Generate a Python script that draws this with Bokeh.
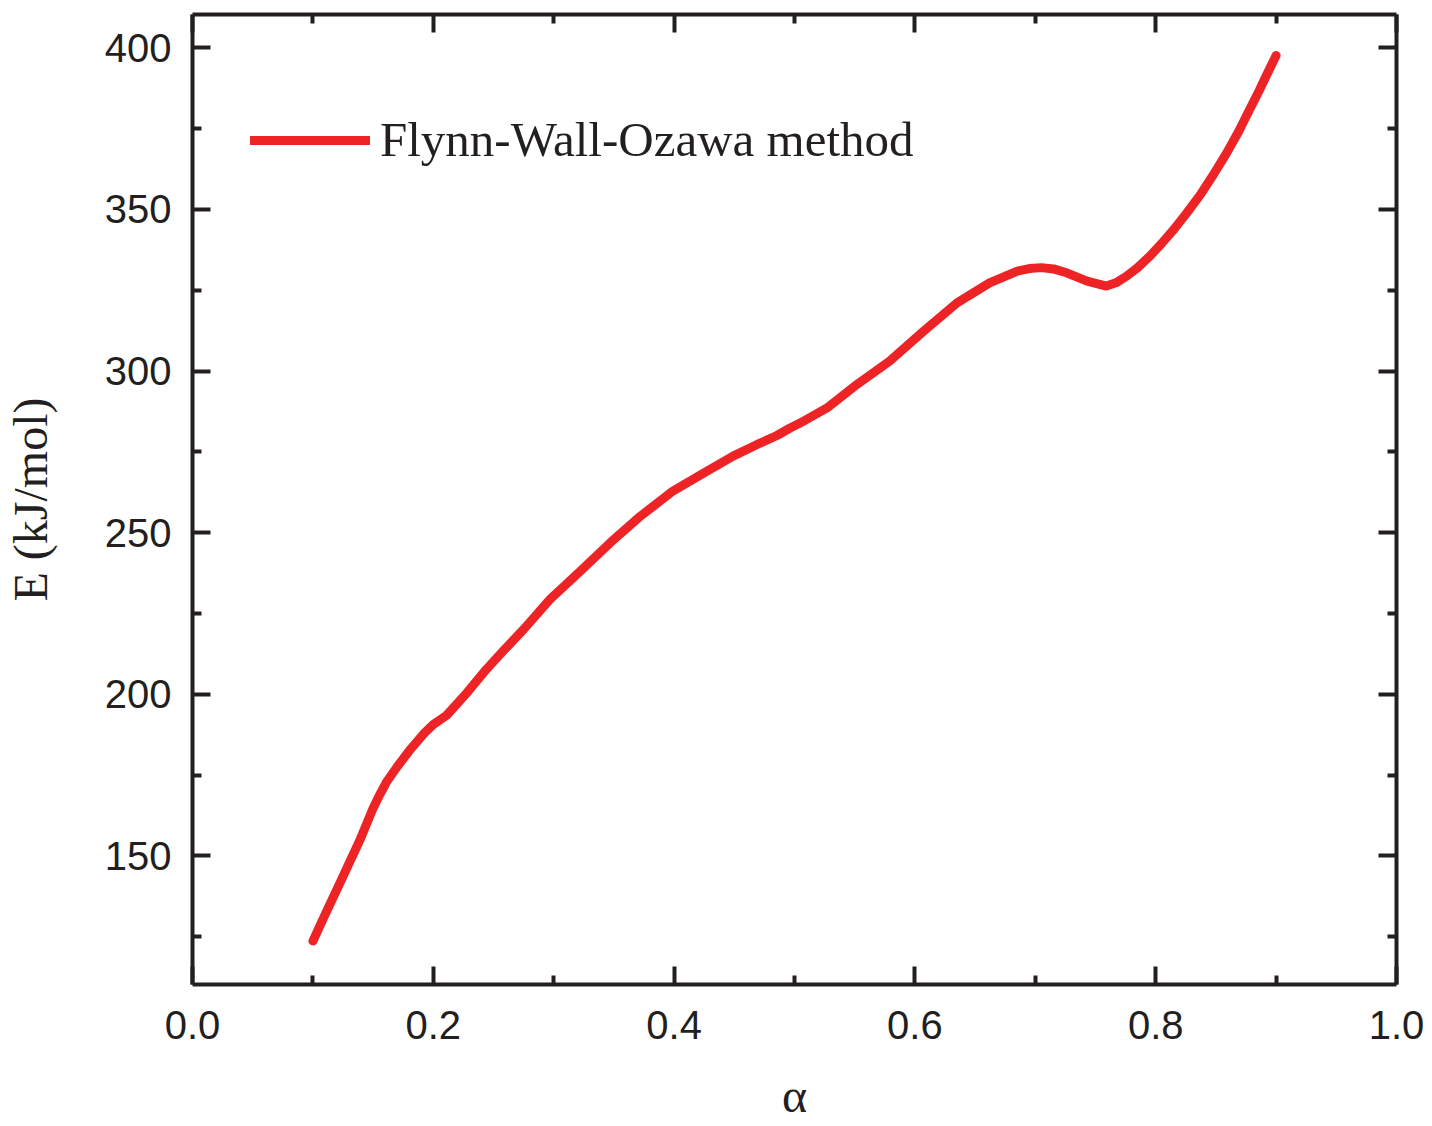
from bokeh.plotting import figure
from bokeh.models import (Range1d, LinearAxis, FixedTicker, Legend, LegendItem,
                          NumeralTickFormatter, CustomJSTickFormatter)
from bokeh.embed import file_html
from bokeh.resources import INLINE

alpha = [0.100, 0.110, 0.1225, 0.139, 0.150, 0.156, 0.161, 0.170, 0.181, 0.192,
         0.200, 0.211, 0.228, 0.244, 0.258, 0.275, 0.297, 0.322, 0.347, 0.372,
         0.399, 0.427, 0.449, 0.469, 0.485, 0.496, 0.505, 0.527, 0.552, 0.579,
         0.607, 0.635, 0.662, 0.685, 0.695, 0.705, 0.715, 0.726, 0.743, 0.759,
         0.767, 0.776, 0.785, 0.795, 0.805, 0.815, 0.825, 0.837, 0.848, 0.859,
         0.869, 0.878, 0.886, 0.892, 0.900]
energy = [123.7, 131.8, 141.7, 154.9, 164.8, 169.3, 172.8, 177.6, 183.0, 187.8,
          190.7, 193.5, 200.5, 207.7, 213.4, 220.1, 229.4, 238.1, 246.9, 255.1,
          262.9, 269.0, 273.7, 277.3, 280.0, 282.3, 284.0, 288.6, 295.9, 303.1,
          312.3, 321.1, 327.3, 330.9, 331.7, 332.0, 331.6, 330.4, 327.8, 326.3,
          327.3, 329.4, 332.0, 335.5, 339.5, 343.8, 348.5, 354.5, 360.8, 367.5,
          374.2, 380.9, 386.8, 391.5, 397.6]

x_major = [0.0, 0.2, 0.4, 0.6, 0.8, 1.0]
x_minor = [0.1, 0.3, 0.5, 0.7, 0.9]
y_major = [150, 200, 250, 300, 350, 400]
y_minor = [125, 175, 225, 275, 325, 375]

series_label = "Flynn-Wall-Ozawa method"
x_title = "α"
y_title = "E (kJ/mol)"

INK = "#231F20"
RED = "#EE2326"

Y_LO, Y_HI = 110.25, 410.3
FRAME_W, FRAME_H = 1204, 970

p = figure(frame_width=FRAME_W, frame_height=FRAME_H, output_backend="svg",
           toolbar_location=None,
           x_range=Range1d(0.0, 1.0), y_range=Range1d(Y_LO, Y_HI),
           min_border_left=190, min_border_right=30, min_border_top=14,
           min_border_bottom=100, x_axis_location=None, y_axis_location=None)
p.outline_line_color = None
p.xgrid.visible = False
p.ygrid.visible = False
p.background_fill_color = "white"

def style(ax, ticks, minor, labels=True):
    ax.ticker = FixedTicker(ticks=ticks, minor_ticks=minor)
    ax.axis_line_color = INK
    ax.axis_line_width = 4
    ax.major_tick_line_color = INK
    ax.major_tick_line_width = 4
    ax.minor_tick_line_color = INK
    ax.minor_tick_line_width = 4
    ax.major_tick_in = 18
    ax.major_tick_out = 0
    ax.minor_tick_in = 9
    ax.minor_tick_out = 0
    ax.major_label_text_font = "Liberation Sans"
    ax.major_label_text_font_size = "40px"
    ax.major_label_text_color = INK
    ax.axis_label_text_font = "Liberation Serif"
    ax.axis_label_text_font_size = "48px"
    ax.axis_label_text_font_style = "normal"
    ax.axis_label_text_color = INK
    if not labels:
        ax.formatter = CustomJSTickFormatter(code="return '';")
        ax.major_label_text_font_size = "0px"
        ax.major_label_standoff = 0

xb = LinearAxis(axis_label=x_title)
style(xb, x_major, x_minor)
xb.formatter = NumeralTickFormatter(format="0.0")
xb.major_label_standoff = 26
xb.axis_label_standoff = 27
p.add_layout(xb, "below")

yl = LinearAxis(axis_label=y_title)
style(yl, y_major, y_minor)
yl.major_label_standoff = 21
yl.axis_label_standoff = 45
p.add_layout(yl, "left")

xt = LinearAxis()
style(xt, x_major, x_minor, labels=False)
p.add_layout(xt, "above")

yr = LinearAxis()
style(yr, y_major, y_minor, labels=False)
p.add_layout(yr, "right")

r = p.line(alpha, energy, line_color=RED, line_width=9, line_cap="round", line_join="round")

legend = Legend(items=[LegendItem(label=series_label, renderers=[r])],
                location=(58, 816), orientation="vertical")
legend.glyph_width = 120
legend.glyph_height = 20
legend.label_standoff = 10
legend.padding = 0
legend.margin = 0
legend.spacing = 0
legend.border_line_color = None
legend.background_fill_alpha = 0
legend.label_text_font = "Liberation Serif"
legend.label_text_font_size = "49px"
legend.label_text_color = INK
p.add_layout(legend, "center")

open("out.html", "w").write(file_html(p, INLINE))
